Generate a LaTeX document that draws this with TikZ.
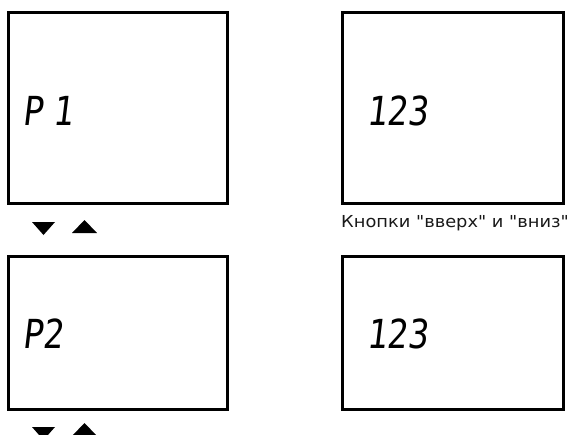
\documentclass[tikz,border=0pt]{standalone}
\usepackage{fontspec}
\setmainfont{DejaVu Sans}[Ligatures=TeXOff,FakeStretch=1.08]
\newfontfamily\lcdfont{DejaVu Sans Mono}[FakeSlant=0.12,FakeStretch=0.85]
\usetikzlibrary{positioning}
\tikzset{
  screen/.style={draw=black,line width=3pt,fill=white,minimum width=219pt,minimum height=191pt,inner sep=0pt},
  lowscreen/.style={screen,minimum height=153pt},
  lcd/.style={font=\lcdfont\fontsize{40}{40}\selectfont,inner sep=0pt,anchor=base west},
  caption/.style={font=\fontsize{16.5}{19}\selectfont,inner sep=0pt,anchor=base west,text=black!90},
  key/.style={fill=black}
}

\begin{document}
\begin{tikzpicture}[x=1pt,y=-1pt]
  \useasboundingbox (0,0) rectangle (570,434);
  \clip (0,0) rectangle (570,434);
  % screens
  \node[screen] (menuone) at (117.5,107.5) {};
  \node[screen,right=112pt of menuone,minimum width=221pt] (valone) {};
  \node[lowscreen,below=50pt of menuone] (menutwo) {};
  \node[lowscreen,below=50pt of valone,minimum width=221pt] (valtwo) {};
  % display texts
  \node[lcd] (pone) at (22,125) {P\kern10pt1};
  \node[lcd] (vone) at (366,125) {123};
  \node[lcd] (ptwo) at (22,348) {P2};
  \node[lcd] (vtwo) at (366,348) {123};
  \node[caption] (keys) at (341,227) {Кнопки "вверх" и "вниз"};
  % buttons
  \fill[key] (32,222) -- ++(23,0) -- ++(-11.5,13) -- cycle;
  \fill[key] (72,233) -- ++(25,0) -- ++(-12.5,-13) -- cycle;
  \fill[key] (32,427) -- ++(23,0) -- ++(-11.5,13) -- cycle;
  \fill[key] (72,436) -- ++(25,0) -- ++(-12.5,-13) -- cycle;
\end{tikzpicture}
\end{document}
